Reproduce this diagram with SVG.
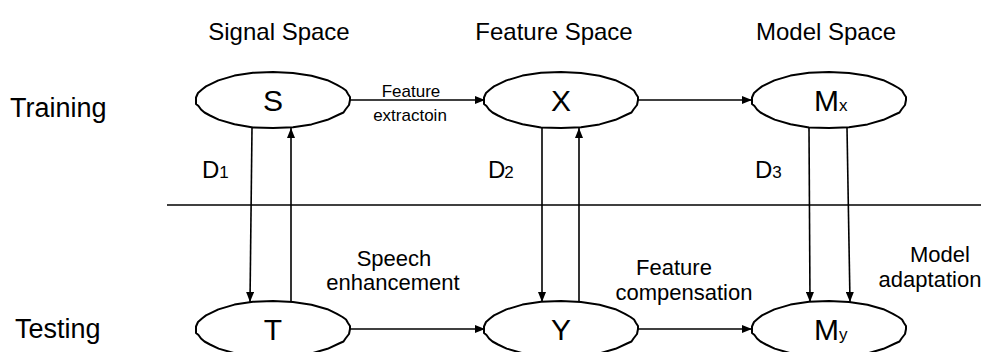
<svg xmlns="http://www.w3.org/2000/svg" width="981" height="352" viewBox="0 0 981 352">
  <style>
    .lbl { font-family: "Liberation Sans", Arial, sans-serif; fill: #000; }
    .title { font-size: 24px; text-anchor: middle; }
    .row { font-size: 27px; }
    .node-txt { font-size: 30px; text-anchor: middle; }
    .sub { font-size: 17px; }
    .dlab { font-size: 24px; }
    .small { font-size: 17px; text-anchor: middle; }
    .note { font-size: 22px; text-anchor: middle; }
    .blob { fill: #fff; stroke: #000; stroke-width: 2; stroke-linejoin: round; }
    .wire { fill: none; stroke: #000; stroke-width: 1.6; }
  </style>
  <defs>
    <!-- hand-drawn looking ellipse, centred on the origin -->
    <path id="blob" d="M77,0 L76,5 L72.5,9.5 L70.5,12.5 L66,14.5 L54.5,19.8 L38.5,24.4 L20,27.2 L0,28 L-20,27.4 L-38.5,24.2 L-54.4,19.6 L-63,15.5 L-68.5,12.5 L-72,9.5 L-74.5,6 L-77,4 L-77,-2.5 L-75,-7 L-71,-10.5 L-67,-13.6 L-54.6,-19.6 L-38.5,-24.4 L-20,-27.2 L0,-28 L20,-27 L38.5,-24.2 L54.4,-19.8 L64,-15.2 L69.5,-12 L73,-9.5 L75,-6 L77,-3 Z"/>
    <marker id="arrow" viewBox="0 0 10 8" refX="10" refY="4" markerWidth="10" markerHeight="8" markerUnits="userSpaceOnUse" orient="auto">
      <path d="M0,0 L10,4 L0,8 Z" fill="#000"/>
    </marker>
  </defs>

  <!-- column and row headings -->
  <g id="headings" class="lbl">
    <text class="title" x="279" y="40">Signal Space</text>
    <text class="title" x="554" y="40">Feature Space</text>
    <text class="title" x="826" y="40">Model Space</text>
    <text class="row" x="10" y="117">Training</text>
    <text class="row" x="15" y="338">Testing</text>
  </g>

  <!-- separator between training and testing -->
  <line x1="167" y1="205" x2="981" y2="205" stroke="#000" stroke-width="1.6"/>

  <!-- connectors -->
  <g id="connectors" class="wire">
    <line x1="350" y1="100" x2="485" y2="100" marker-end="url(#arrow)"/>
    <line x1="637" y1="100" x2="752" y2="100" marker-end="url(#arrow)"/>
    <line x1="350" y1="329" x2="485" y2="329" marker-end="url(#arrow)"/>
    <line x1="637" y1="329" x2="752" y2="329" marker-end="url(#arrow)"/>
    <line x1="252" y1="128" x2="250" y2="302" marker-end="url(#arrow)"/>
    <line x1="291" y1="302" x2="291" y2="128" marker-end="url(#arrow)"/>
    <line x1="542" y1="128" x2="542" y2="302" marker-end="url(#arrow)"/>
    <line x1="579" y1="302" x2="579" y2="128" marker-end="url(#arrow)"/>
    <line x1="809" y1="128" x2="810" y2="302" marker-end="url(#arrow)"/>
    <line x1="847" y1="128" x2="850" y2="302" marker-end="url(#arrow)"/>
  </g>

  <!-- connector labels -->
  <g id="edge-labels" class="lbl">
    <text class="small" x="411" y="97">Feature</text>
    <text class="small" x="410" y="121">extractoin</text>
    <text class="dlab" x="202" y="178">D<tspan class="sub">1</tspan></text>
    <text class="dlab" x="488" y="178">D<tspan class="sub" dx="-1">2</tspan></text>
    <text class="dlab" x="755" y="178">D<tspan class="sub">3</tspan></text>
    <text class="note" x="394" y="266">Speech</text>
    <text class="note" x="393" y="290">enhancement</text>
    <text class="note" x="674" y="275">Feature</text>
    <text class="note" x="684" y="300">compensation</text>
    <text class="note" x="940" y="262">Model</text>
    <text class="note" x="930" y="287">adaptation</text>
  </g>

  <!-- training nodes -->
  <g id="node-S">
    <use href="#blob" class="blob" transform="translate(273,100)"/>
    <text class="lbl node-txt" x="273" y="111">S</text>
  </g>
  <g id="node-X">
    <use href="#blob" class="blob" transform="translate(561,100)"/>
    <text class="lbl node-txt" x="561" y="111">X</text>
  </g>
  <g id="node-Mx">
    <use href="#blob" class="blob" transform="translate(829,100)"/>
    <text class="lbl" x="814" y="111" font-size="30">M<tspan class="sub">x</tspan></text>
  </g>

  <!-- testing nodes -->
  <g id="node-T">
    <use href="#blob" class="blob" transform="translate(273,329)"/>
    <text class="lbl node-txt" x="273" y="340">T</text>
  </g>
  <g id="node-Y">
    <use href="#blob" class="blob" transform="translate(561,329)"/>
    <text class="lbl node-txt" x="561" y="340">Y</text>
  </g>
  <g id="node-My">
    <use href="#blob" class="blob" transform="translate(829,329)"/>
    <text class="lbl" x="814" y="340" font-size="30">M<tspan class="sub">y</tspan></text>
  </g>
</svg>
